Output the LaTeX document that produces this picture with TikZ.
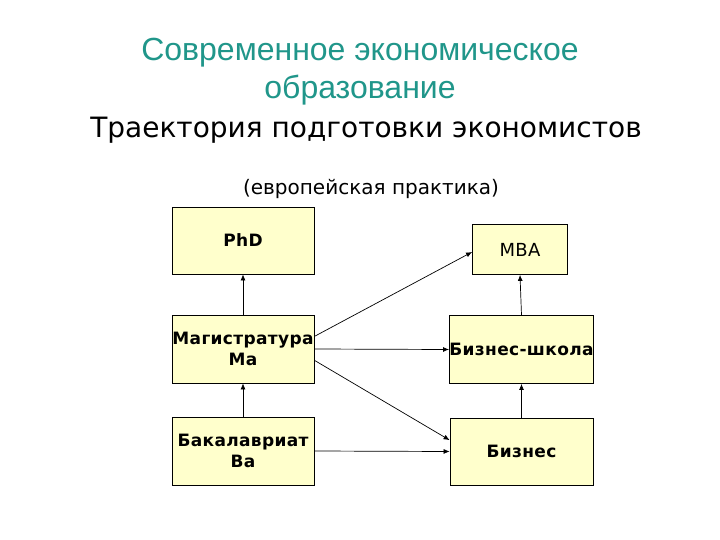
\documentclass[tikz,border=0pt]{standalone}
\usepackage{fontspec}
\setmainfont{DejaVu Sans}
\newfontfamily\titlefont{Liberation Sans}
\newfontfamily\boxfont[LetterSpace=2]{DejaVu Sans}
\usepackage{tikz}
\usetikzlibrary{arrows.meta}
\definecolor{titleteal}{RGB}{32,150,138}
\definecolor{boxyellow}{RGB}{255,255,204}

\begin{document}
\begin{tikzpicture}[x=1pt,y=-1pt,stage/.style={draw=black,line width=0.8pt,fill=boxyellow,inner sep=0pt,align=center,font=\boxfont\bfseries\fontsize{17}{21}\selectfont,minimum width=142pt,minimum height=68pt},stageW/.style={stage,minimum width=143pt},stageS/.style={stage,font=\boxfont\fontsize{18}{20}\selectfont,minimum width=95pt,minimum height=50pt},path/.style={-{Latex[length=6pt,width=5pt]},line width=0.7pt}]
\useasboundingbox (0,0) rectangle (720,540);

% headings
\node[titleteal,font=\titlefont\fontsize{32}{36}\selectfont,anchor=base] (T1) at (360,61) {Современное экономическое};
\node[titleteal,font=\titlefont\fontsize{32}{36}\selectfont,anchor=base] (T2) at (360,99) {образование};
\node[font=\fontsize{28}{32}\selectfont,anchor=base] (T3) at (366,138) {Траектория подготовки экономистов};
\node[font=\fontsize{20}{24}\selectfont,anchor=base] (T4) at (371,195) {(европейская практика)};

% academic track
\node[stage,minimum height=67pt] (PhD) at (243,240.5) {PhD};
\node[stage] (Ma) at (243,349) {Магистратура\\Ма};
\node[stage] (Ba) at (243,451) {Бакалавриат\\Ва};

% business track
\node[stageS] (MBA) at (520,249.5) {MBA};
\node[stageW] (BS) at (521.5,349.5) {Бизнес-школа};
\node[stageW,minimum height=67pt] (B) at (521.5,451.5) {Бизнес};

\draw[path] (Ma.north) -- (PhD.south);
\draw[path] (Ba.north) -- (Ma.south);
\draw[path] (B.north) -- (BS.south);
\draw[path] (BS.north) -- (MBA.south);

\draw[path] (Ma.10) -- (MBA.183);
\draw[path] (Ma.east) -- (BS.west);
\draw[path] (Ma.-9) -- (B.171);
\draw[path] (Ba.east) -- (B.west);
\end{tikzpicture}
\end{document}
